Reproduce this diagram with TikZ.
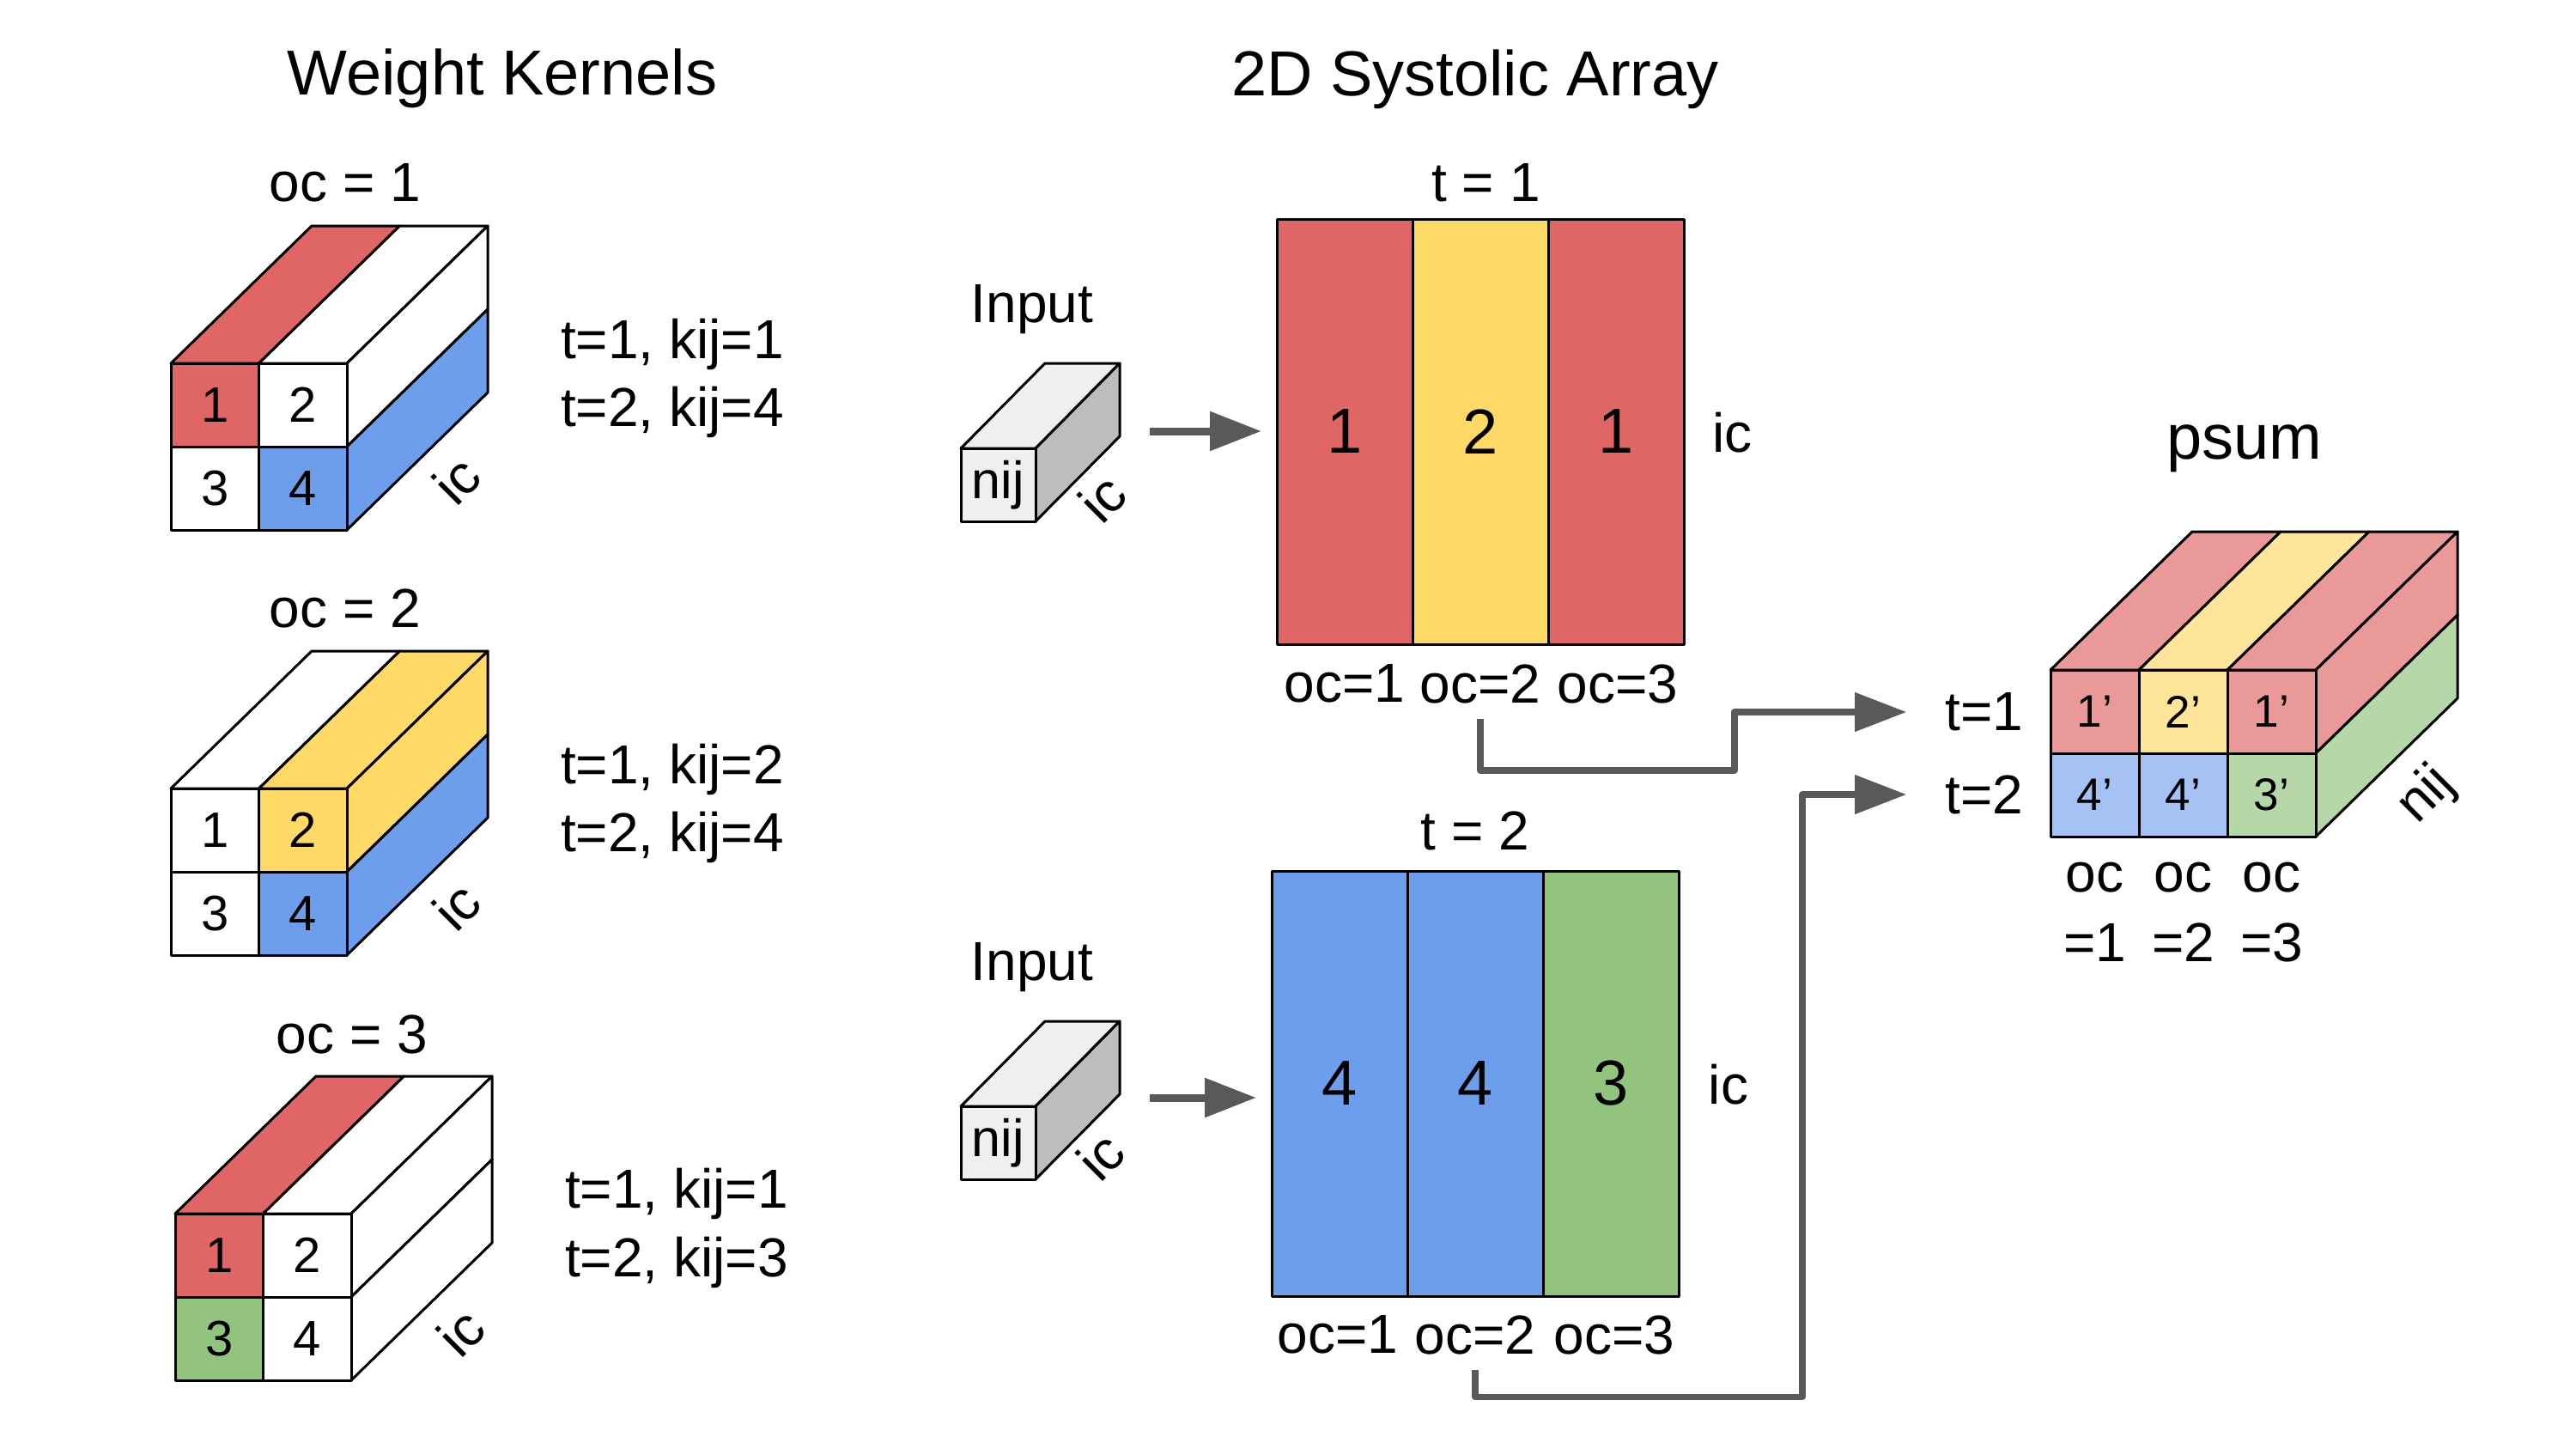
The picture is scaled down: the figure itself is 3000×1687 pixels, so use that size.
\documentclass[tikz,border=0pt]{standalone}
\usepackage{fontspec}
\setmainfont{Liberation Sans}
\usetikzlibrary{arrows.meta}
\definecolor{kred}{HTML}{E06666}
\definecolor{kyel}{HTML}{FFD966}
\definecolor{kblu}{HTML}{6D9EEB}
\definecolor{kgrn}{HTML}{93C47D}
\definecolor{lred}{HTML}{EA9999}
\definecolor{lyel}{HTML}{FFE599}
\definecolor{lblu}{HTML}{A4C2F4}
\definecolor{lgrn}{HTML}{B6D7A8}
\definecolor{gfront}{HTML}{EFEFEF}
\definecolor{gside}{HTML}{BDBDBD}
\definecolor{agray}{HTML}{595959}
\tikzset{
  every node/.style={inner sep=0pt, outer sep=0pt},
  ttl/.style={font=\fontsize{37pt}{44pt}\selectfont},
  lbl/.style={font=\fontsize{32pt}{38pt}\selectfont},
  knum/.style={font=\fontsize{29pt}{34pt}\selectfont},
  anum/.style={font=\fontsize{37pt}{44pt}\selectfont},
  pnum/.style={font=\fontsize{26.5pt}{32pt}\selectfont},
  edge/.style={draw=black, line width=1.5pt, line join=round},
  kcell/.style={edge, knum, minimum width=51.25pt, minimum height=48.5pt, anchor=north west},
  pcell/.style={edge, pnum, minimum width=51.5pt, minimum height=48.5pt, anchor=north west},
  acol/.style={edge, anum, minimum width=79pt, minimum height=247.5pt},
  infront/.style={edge, font=\fontsize{30.5pt}{36pt}\selectfont, fill=gfront, minimum width=43.5pt, minimum height=42.5pt, anchor=north west},
  conn/.style={draw=agray, line width=3.75pt, line join=round, -{Triangle[length=30pt,width=22pt]}},
  inarr/.style={draw=agray, line width=4.5pt, -{Triangle[length=30pt,width=22pt]}}
}
% weight cube: #1 name, #2 x, #3 y, #4 top1, #5 top2, #6 side1, #7 side2, #8 front colours
\newcommand\kcube[8]{%
  \begin{scope}[shift={(#2,#3)}]
    \filldraw[edge, fill=#4] (0,0) -- (102.5,0) -- ++(164,-160) -- ++(-102.5,0) -- cycle;
    \filldraw[edge, fill=#5] (102.5,0) -- (205,0) -- ++(164,-160) -- ++(-102.5,0) -- cycle;
    \filldraw[edge, fill=#6] (205,0) -- (205,97) -- ++(164,-160) -- ++(0,-97) -- cycle;
    \filldraw[edge, fill=#7] (205,97) -- (205,194) -- ++(164,-160) -- ++(0,-97) -- cycle;
    \foreach \c [count=\n] in {#8} {
      \pgfmathsetmacro\cx{mod(\n-1,2)*102.5}
      \pgfmathsetmacro\cy{int((\n-1)/2)*97}
      \node[kcell, fill=\c] (#1c\n) at (\cx,\cy) {\n};
    }
  \end{scope}}
% input cube: #1 name, #2 x, #3 y
\newcommand\incube[3]{%
  \begin{scope}[shift={(#2,#3)}]
    \filldraw[edge, fill=gfront] (0,0) -- (87,0) -- ++(98,-99) -- ++(-87,0) -- cycle;
    \filldraw[edge, fill=gside] (87,0) -- (87,85) -- ++(98,-99) -- ++(0,-85) -- cycle;
    \node[infront] (#1) at (0,0) {nij};
  \end{scope}}
\begin{document}
\begin{tikzpicture}[x=0.5pt, y=-0.5pt]
\fill[white] (0,0) rectangle (3000,1687);
\useasboundingbox (0,0) rectangle (3000,1687);

% titles
\node[ttl, anchor=base] (ttlW) at (585,110) {Weight Kernels};
\node[ttl, anchor=base] (ttlS) at (1718,111.7) {2D Systolic Array};

% weight kernels
\node[lbl] (oc1) at (402,212.5) {oc = 1};
\node[lbl] (oc2) at (402,708.5) {oc = 2};
\node[lbl] (oc3) at (410,1204) {oc = 3};
\kcube{kA}{199}{423}{kred}{white}{white}{kblu}{kred,white,white,kblu}
\kcube{kB}{199}{918}{white}{kyel}{kyel}{kblu}{white,kyel,white,kblu}
\kcube{kC}{204}{1413}{kred}{white}{white}{white}{kred,white,kgrn,white}
\node[lbl, rotate=45] (kAic) at (532,559) {ic};
\node[lbl, rotate=45] (kBic) at (532,1055) {ic};
\node[lbl, rotate=45] (kCic) at (537,1551) {ic};
\node[lbl, anchor=base west] (kAt1) at (653,417) {t=1, kij=1};
\node[lbl, anchor=base west] (kAt2) at (653,496) {t=2, kij=4};
\node[lbl, anchor=base west] (kBt1) at (653,912) {t=1, kij=2};
\node[lbl, anchor=base west] (kBt2) at (653,991) {t=2, kij=4};
\node[lbl, anchor=base west] (kCt1) at (658,1406) {t=1, kij=1};
\node[lbl, anchor=base west] (kCt2) at (658,1486) {t=2, kij=3};

% inputs
\node[lbl, anchor=base] (in1l) at (1202,375) {Input};
\node[lbl, anchor=base] (in2l) at (1202,1141) {Input};
\incube{in1}{1119}{522}
\incube{in2}{1119}{1288}
\node[lbl, rotate=45] (in1ic) at (1284,580) {ic};
\node[lbl, rotate=45] (in2ic) at (1282,1346) {ic};

% systolic array t=1
\node[lbl] (t1) at (1730.5,212.5) {t = 1};
\node[acol, fill=kred] (a1c1) at (1566,502.5) {1};
\node[acol, fill=kyel] (a1c2) at (1724,502.5) {2};
\node[acol, fill=kred] (a1c3) at (1882,502.5) {1};
\node[lbl] (a1ic) at (2017.5,504) {ic};
\node[lbl] (a1oc1) at (1566,796) {oc=1};
\node[lbl] (a1oc2) at (1724,796) {oc=2};
\node[lbl] (a1oc3) at (1884,796) {oc=3};

% systolic array t=2
\node[lbl] (t2) at (1718,967) {t = 2};
\node[acol, fill=kblu] (a2c1) at (1560,1261.5) {4};
\node[acol, fill=kblu] (a2c2) at (1718,1261.5) {4};
\node[acol, fill=kgrn] (a2c3) at (1876,1261.5) {3};
\node[lbl] (a2ic) at (2013,1263) {ic};
\node[lbl] (a2oc1) at (1558,1554) {oc=1};
\node[lbl] (a2oc2) at (1718,1554) {oc=2};
\node[lbl] (a2oc3) at (1880,1554) {oc=3};

% input arrows
\coordinate (ia1) at (1338.5,502);
\coordinate (ia2) at (1338.5,1278);
\draw[inarr, shorten >=9pt] (ia1) -- (ia1 -| a1c1.west);
\draw[inarr, shorten >=9pt] (ia2) -- (ia2 -| a2c1.west);

% psum
\node[ttl, anchor=base] (psum) at (2614,534) {psum};
\begin{scope}[shift={(2388,780)}]
  \filldraw[edge, fill=lred] (0,0) -- (103,0) -- ++(165,-161) -- ++(-103,0) -- cycle;
  \filldraw[edge, fill=lyel] (103,0) -- (206,0) -- ++(165,-161) -- ++(-103,0) -- cycle;
  \filldraw[edge, fill=lred] (206,0) -- (309,0) -- ++(165,-161) -- ++(-103,0) -- cycle;
  \filldraw[edge, fill=lred] (309,0) -- (309,97) -- ++(165,-161) -- ++(0,-97) -- cycle;
  \filldraw[edge, fill=lgrn] (309,97) -- (309,194) -- ++(165,-161) -- ++(0,-97) -- cycle;
  \node[pcell, fill=lred] (p11) at (0,0) {1’};
  \node[pcell, fill=lyel] (p12) at (103,0) {2’};
  \node[pcell, fill=lred] (p13) at (206,0) {1’};
  \node[pcell, fill=lblu] (p21) at (0,97) {4’};
  \node[pcell, fill=lblu] (p22) at (103,97) {4’};
  \node[pcell, fill=lgrn] (p23) at (206,97) {3’};
\end{scope}
\node[lbl, rotate=45] (pnij) at (2826,926) {nij};
\node[lbl] (pt1) at (2310.6,829) {t=1};
\node[lbl] (pt2) at (2310.6,925) {t=2};
\node[lbl, anchor=base] (po1a) at (2439.5,1038) {oc};
\node[lbl, anchor=base] (po2a) at (2542.5,1038) {oc};
\node[lbl, anchor=base] (po3a) at (2645.5,1038) {oc};
\node[lbl, anchor=base] (po1b) at (2439.5,1119) {=1};
\node[lbl, anchor=base] (po2b) at (2542.5,1119) {=2};
\node[lbl, anchor=base] (po3b) at (2645.5,1119) {=3};

% connectors to psum
\coordinate (j1) at (2019.8,897);
\coordinate (j2) at (2099,1626.5);
\draw[conn] ([yshift=-9pt]a1oc2.south) |- (j1) |- ([xshift=-22.5pt]pt1.west);
\draw[conn] ([yshift=-9pt]a2oc2.south) |- (j2) |- ([xshift=-22.5pt]pt2.west);
\end{tikzpicture}
\end{document}
